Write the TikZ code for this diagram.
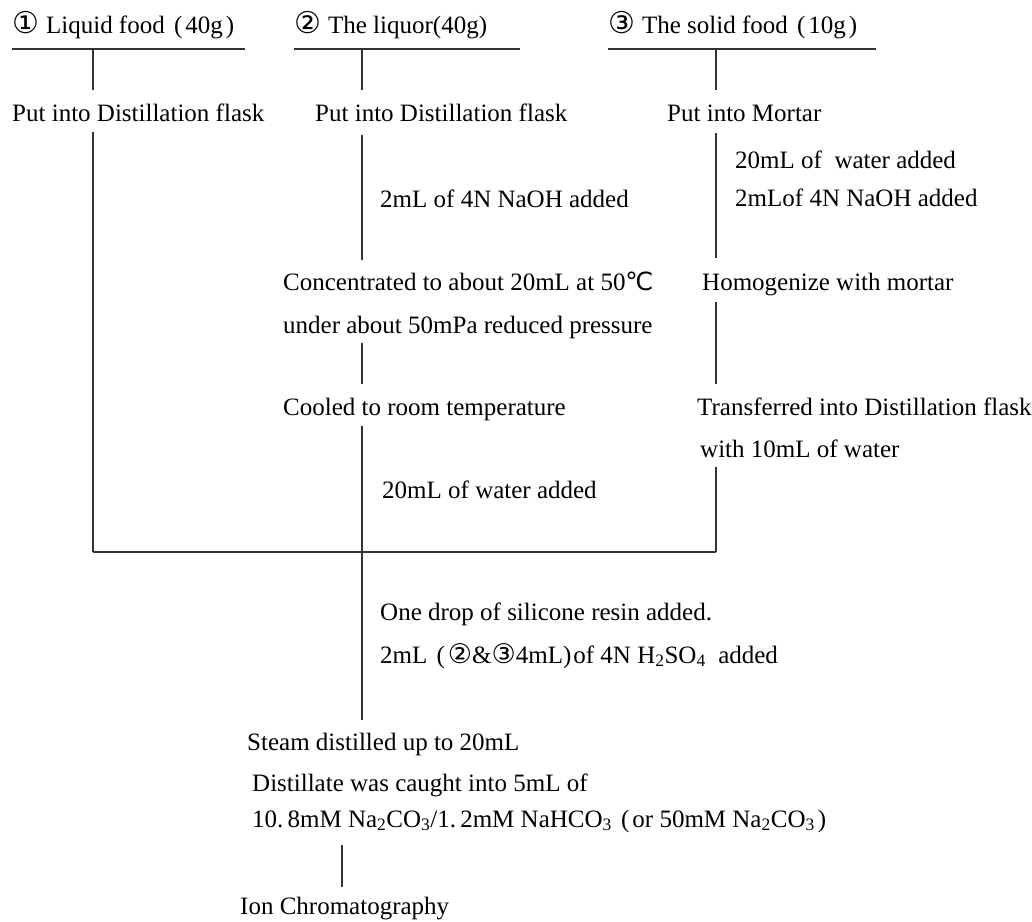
\documentclass[tikz,border=0pt]{standalone}
\usepackage{fontspec}
\setmainfont{Liberation Serif}
\newfontfamily\symfont{DejaVu Sans}
\newcommand{\cnum}[1]{{\symfont\fontsize{30}{30}\selectfont #1}}
\newcommand{\cnums}[1]{{\symfont\fontsize{27}{27}\selectfont #1}}
\newcommand{\sub}[1]{\textsubscript{#1}}
\newcommand{\lp}{\ \kern3pt(\kern3pt}
\newcommand{\rp}{\kern3pt)\kern2pt}
\begin{document}
\begin{tikzpicture}[x=1pt,y=-1pt,
  txt/.style={anchor=base west,inner sep=0pt,font=\fontsize{25}{29}\selectfont},
  ln/.style={line width=1.3pt,black!80}]
\useasboundingbox[fill=white] (0,0) rectangle (1032,921);
% headers
\node[txt] (h1) at (12,33) {\cnum{①}\kern7pt Liquid food\lp 40g\rp};
\node[txt] (h2) at (294,33) {\cnum{②}\kern7pt The liquor(40g)};
\node[txt] (h3) at (608,33) {\cnum{③}\kern7pt The solid food\lp 10g\rp};
\draw[ln] (12,49) -- (245,49);
\draw[ln] (294,49) -- (520,49);
\draw[ln] (608,49) -- (876,49);
\draw[ln] (93,49) -- (93,90);
\draw[ln] (362,49) -- (362,90);
\draw[ln] (716,49) -- (716,90);
% row 2
\node[txt] (a1) at (12,121) {Put into Distillation flask};
\node[txt] (b1) at (315,121) {Put into Distillation flask};
\node[txt] (c1) at (667,121) {Put into Mortar};
% left column
\draw[ln] (93,132) -- (93,552);
% middle column
\draw[ln] (362,135) -- (362,260);
\node[txt] (b2) at (380,207) {2mL of 4N NaOH added};
\node[txt] (b3) at (283,290) {Concentrated to about 20mL at 50{\symfont ℃}};
\node[txt] (b4) at (283,333) {under about 50mPa reduced pressure};
\draw[ln] (362,343) -- (362,384);
\node[txt] (b5) at (283,415) {Cooled to room temperature};
\draw[ln] (362,426) -- (362,720);
\node[txt] (b6) at (382,498) {20mL of water added};
% right column
\draw[ln] (716,133) -- (716,258);
\node[txt] (c2) at (735,168) {20mL of \ water added};
\node[txt] (c3) at (735,206) {2mLof 4N NaOH added};
\node[txt] (c4) at (702,290) {Homogenize with mortar};
\draw[ln] (716,302) -- (716,384);
\node[txt] (c5) at (697,415) {Transferred into Distillation flask};
\node[txt] (c6) at (700,457) {with 10mL of water};
\draw[ln] (716,467) -- (716,552);
% join
\draw[ln] (93,552) -- (716,552);
\node[txt] (d1) at (380,620) {One drop of silicone resin added.};
\node[txt] (d2) at (380,663) {2mL\lp\cnums{②}\&\cnums{③}4mL)\kern2pt of 4N H\sub{2}SO\sub{4}\ \ added};
% bottom
\node[txt] (e1) at (247,750) {Steam distilled up to 20mL};
\node[txt] (e2) at (252,791) {Distillate was caught into 5mL of};
\node[txt] (e3) at (252,827) {10.\,8mM Na\sub{2}CO\sub{3}/1.\,2mM NaHCO\sub{3}\lp or 50mM Na\sub{2}CO\sub{3}\rp};
\draw[ln] (342,845) -- (342,887);
\node[txt] (e4) at (240,914) {Ion Chromatography};
\end{tikzpicture}
\end{document}
